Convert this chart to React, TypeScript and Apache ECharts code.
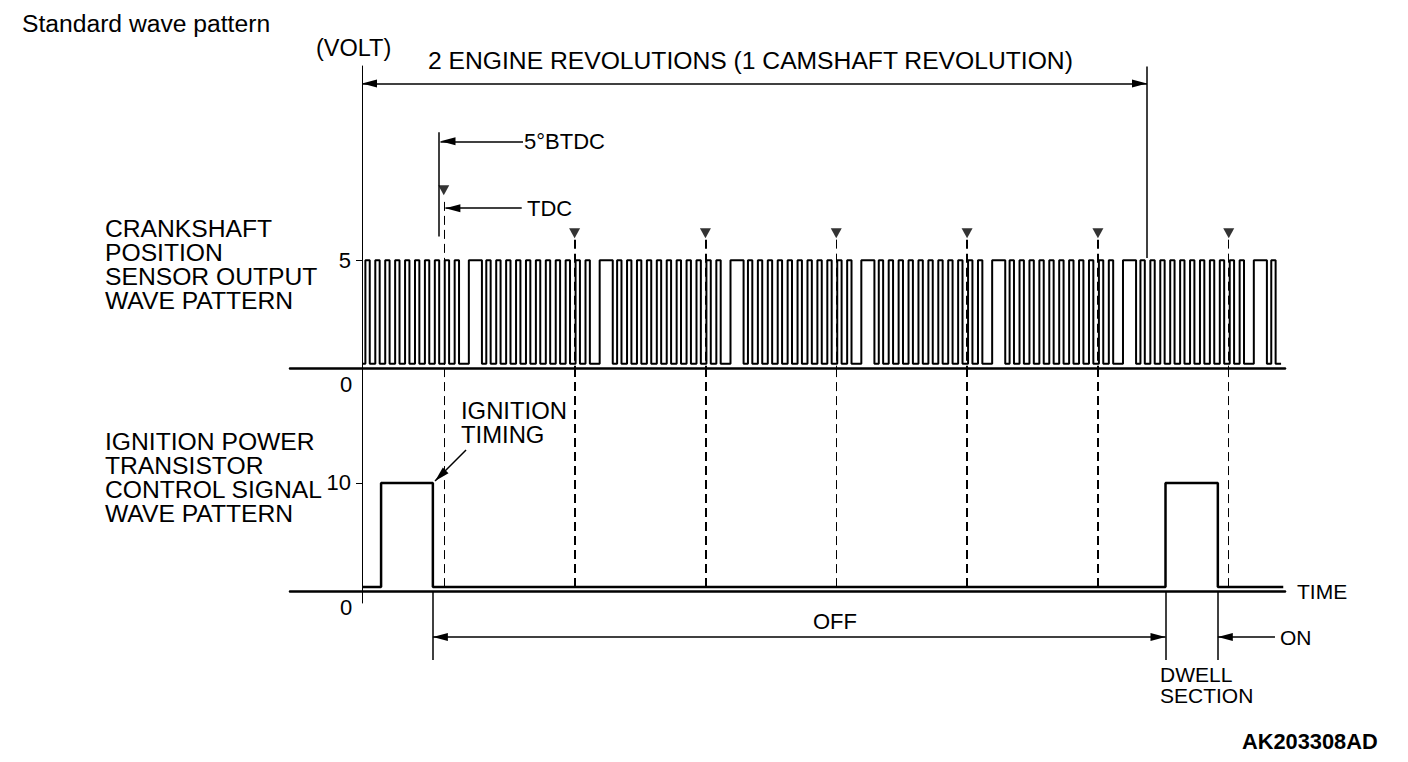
import React, { useEffect, useRef } from "react";
import * as echarts from "echarts";

// ---------- data (crank angle in degrees, levels in volts) ----------
const tdcDeg = [75, 195, 315, 435, 555, 675, 795];
const btdcOffsetDeg = 5;
const crankGapStartDeg = [-22, 98, 218, 338, 458, 578, 698, 818];
const crankGapWidthDeg = 12;
const crankToothOffsetDeg = [16, 25.1, 34.2, 43.3, 52.4, 61.5, 70.6, 79.7, 88.8, 97.9, 107];
const crankToothWidthDeg = 4;
const crankLevelsV = [0.2, 5];
const crankSpanDeg = [0, 843];
const ignOnDeg = [17.5, 737];
const ignOffDeg = [65, 785];
const ignLevelsV = [0.37, 10];
const ignSpanDeg = [0, 845];
const cycleDeg = [0, 720];
const crankTicksV = [5];
const ignTicksV = [10];

const FONT = "'Liberation Sans', Arial, Helvetica, sans-serif";
const X_MIN = -66.04;
const X_MAX = 846.6;

function buildCrank(): number[][] {
  const pulses: number[][] = [];
  crankGapStartDeg.forEach((s) => {
    pulses.push([s, s + crankGapWidthDeg]);
    crankToothOffsetDeg.forEach((o) => pulses.push([s + o, s + o + crankToothWidthDeg]));
  });
  pulses.sort((p, q) => p[0] - q[0]);
  const [lo, hi] = crankLevelsV;
  const [a, b] = crankSpanDeg;
  const pts: number[][] = [[a, lo]];
  pulses.forEach(([r, f]) => {
    if (r < a || r >= b) return;
    const ff = Math.min(f, b);
    pts.push([r, lo], [r, hi], [ff, hi], [ff, lo]);
  });
  pts.push([b, lo]);
  return pts;
}

function buildIgnition(): number[][] {
  const [lo, hi] = ignLevelsV;
  const pts: number[][] = [[ignSpanDeg[0], lo]];
  ignOnDeg.forEach((on, i) => {
    const off = ignOffDeg[i];
    pts.push([on, lo], [on, hi], [off, hi], [off, lo]);
  });
  pts.push([ignSpanDeg[1], lo]);
  return pts;
}

const ARROW = "triangle";
const ASIZE = [8, 15];
const AOFF = [0, 7.5];

function seg(x1: number, y1: number, x2: number, y2: number, opts: any = {}) {
  const { start = "none", end = "none", lineStyle } = opts;
  const a: any = { coord: [x1, y1], symbol: start, symbolSize: ASIZE, symbolOffset: AOFF };
  const b: any = { coord: [x2, y2], symbol: end, symbolSize: ASIZE, symbolOffset: AOFF };
  if (lineStyle) a.lineStyle = lineStyle;
  return [a, b];
}

function txt(text: string, x: number, y: number, extra: any = {}, scaleX = 1) {
  return {
    type: "text",
    x,
    y,
    scaleX,
    silent: true,
    style: {
      text,
      fill: "#000",
      fontSize: 23.5,
      fontFamily: FONT,
      align: "left",
      verticalAlign: "middle",
      ...extra,
    },
  };
}

export default function App() {
  const ref = useRef<HTMLDivElement>(null);
  useEffect(() => {
    if (!ref.current) return;
    const chart = echarts.init(ref.current, null, { renderer: "svg" });
    const tdc0 = tdcDeg[0];
    const btdc = tdc0 - btdcOffsetDeg;

    const markBase = {
      silent: true,
      symbol: "none",
      label: { show: false },
      emphasis: { disabled: true },
      animation: false,
      lineStyle: { color: "#000", width: 1.5, type: "solid" },
    };

    const xAxisCfg = (gridIndex: number, show: boolean, extra: any = {}) => ({
      type: "value",
      gridIndex,
      min: X_MIN,
      max: X_MAX,
      axisLine: { show, onZero: true, lineStyle: { color: "#000", width: 2.5 } },
      axisTick: { show: false },
      axisLabel: { show: false },
      splitLine: { show: false },
      ...extra,
    });

    const yAxisCfg = (gridIndex: number, min: number, max: number, ticks: number[] | null) => ({
      type: "value",
      gridIndex,
      min,
      max,
      position: "left",
      offset: -72,
      axisLine: { show: !!ticks, onZero: false, lineStyle: { color: "#000", width: 1 } },
      axisTick: ticks
        ? { show: true, customValues: ticks, length: 6, lineStyle: { color: "#000", width: 1 } }
        : { show: false },
      axisLabel: ticks
        ? { show: true, customValues: ticks, margin: 11, fontSize: 22, color: "#000", fontFamily: FONT }
        : { show: false },
      splitLine: { show: false },
    });

    const option: any = {
      animation: false,
      backgroundColor: "#fff",
      grid: [
        { left: 290, width: 995, top: 66, height: 302, containLabel: false, outerBoundsMode: "none" },
        { left: 290, width: 995, top: 368, height: 235, containLabel: false, outerBoundsMode: "none" },
        { left: 290, width: 995, top: 591, height: 69, containLabel: false, outerBoundsMode: "none" },
      ],
      xAxis: [
        xAxisCfg(0, true),
        xAxisCfg(1, true, {
          name: "TIME",
          nameLocation: "end",
          nameGap: 12,
          nameTextStyle: { fontSize: 21, color: "#000", fontFamily: FONT, verticalAlign: "middle", align: "left" },
        }),
        xAxisCfg(2, false),
      ],
      yAxis: [
        yAxisCfg(0, 0, 14, crankTicksV),
        yAxisCfg(1, -1.111, 20.648, ignTicksV),
        yAxisCfg(2, 0, 3, null),
      ],
      series: [
        {
          name: "crank",
          type: "line",
          xAxisIndex: 0,
          yAxisIndex: 0,
          data: buildCrank(),
          symbol: "none",
          silent: true,
          lineStyle: { color: "#000", width: 2 },
          markLine: {
            ...markBase,
            data: [
              seg(cycleDeg[0], 13.19, cycleDeg[1], 13.19, { start: ARROW, end: ARROW }),
              seg(cycleDeg[1], 13.98, cycleDeg[1], 5.1),
              seg(btdc, 10.93, btdc, 6.1),
              seg(147.7, 10.51, btdc + 2, 10.51, { end: ARROW }),
              seg(146.5, 7.41, tdc0 + 1.5, 7.41, { end: ARROW }),
              ...tdcDeg.map((d, i) =>
                seg(d, i === 0 ? 7.7 : 5.95, d, 0, {
                  lineStyle: { type: [9, 5], width: i % 3 === 0 ? 1 : 2, color: "#000" },
                })
              ),
            ],
          },
        },
        {
          name: "tdc",
          type: "scatter",
          xAxisIndex: 0,
          yAxisIndex: 0,
          silent: true,
          symbol: "triangle",
          symbolRotate: 180,
          symbolSize: [11, 10],
          itemStyle: { color: "#000" },
          data: tdcDeg.map((d, i) => [d, i === 0 ? 8.24 : 6.25]),
        },
        {
          name: "ignition",
          type: "line",
          xAxisIndex: 1,
          yAxisIndex: 1,
          data: buildIgnition(),
          symbol: "none",
          silent: true,
          lineStyle: { color: "#000", width: 2.5 },
          markLine: {
            ...markBase,
            data: [
              seg(95.4, 13.06, ignOffDeg[0] + 2, 10.19, { end: ARROW }),
              ...tdcDeg.map((d, i) =>
                seg(d, 20.64, d, 0, {
                  lineStyle: { type: [9, 5], width: i % 3 === 0 ? 1 : 2, color: "#000" },
                })
              ),
            ],
          },
        },
        {
          name: "dwell",
          type: "line",
          xAxisIndex: 2,
          yAxisIndex: 2,
          data: [],
          symbol: "none",
          silent: true,
          markLine: {
            ...markBase,
            data: [
              seg(ignOffDeg[0], 3, ignOffDeg[0], 0),
              seg(ignOnDeg[1], 3, ignOnDeg[1], 0),
              seg(ignOffDeg[1], 3, ignOffDeg[1], 0),
              seg(ignOffDeg[0], 1, ignOnDeg[1], 1, { start: ARROW, end: ARROW }),
              seg(837.4, 1, ignOffDeg[1], 1, { end: ARROW }),
            ],
          },
        },
      ],
      graphic: {
        elements: [
          txt("Standard wave pattern", 22, 24, {}, 1.05),
          txt("(VOLT)", 316, 48),
          txt("2 ENGINE REVOLUTIONS (1 CAMSHAFT REVOLUTION)", 428, 61, {}, 1.05),
          txt("5°BTDC", 524, 141, { fontSize: 22 }),
          txt("TDC", 527, 208, { fontSize: 22 }),
          txt("CRANKSHAFT\nPOSITION\nSENSOR OUTPUT\nWAVE PATTERN", 105, 217, { verticalAlign: "top", lineHeight: 24 }, 1.05),
          txt("0", 346, 384, { align: "center", fontSize: 22 }),
          txt("0", 346, 607, { align: "center", fontSize: 22 }),
          txt("IGNITION\nTIMING", 461, 399, { verticalAlign: "top", lineHeight: 24 }, 1.015),
          txt("IGNITION POWER\nTRANSISTOR\nCONTROL SIGNAL\nWAVE PATTERN", 105, 430, { verticalAlign: "top", lineHeight: 24 }, 1.05),
          txt("OFF", 835, 621, { align: "center", fontSize: 22 }),
          txt("ON", 1280, 637, { fontSize: 21 }),
          txt("DWELL\nSECTION", 1160, 663.5, { verticalAlign: "top", lineHeight: 21, fontSize: 21 }),
          txt("AK203308AD", 1242, 741, { fontSize: 21.8, fontWeight: "bold" }),
        ],
      },
    };
    chart.setOption(option);
    return () => chart.dispose();
  }, []);
  return (
    <div
      ref={ref}
      style={{ position: "absolute", left: 0, top: 0, width: 1408, height: 762, background: "#fff" }}
    />
  );
}
